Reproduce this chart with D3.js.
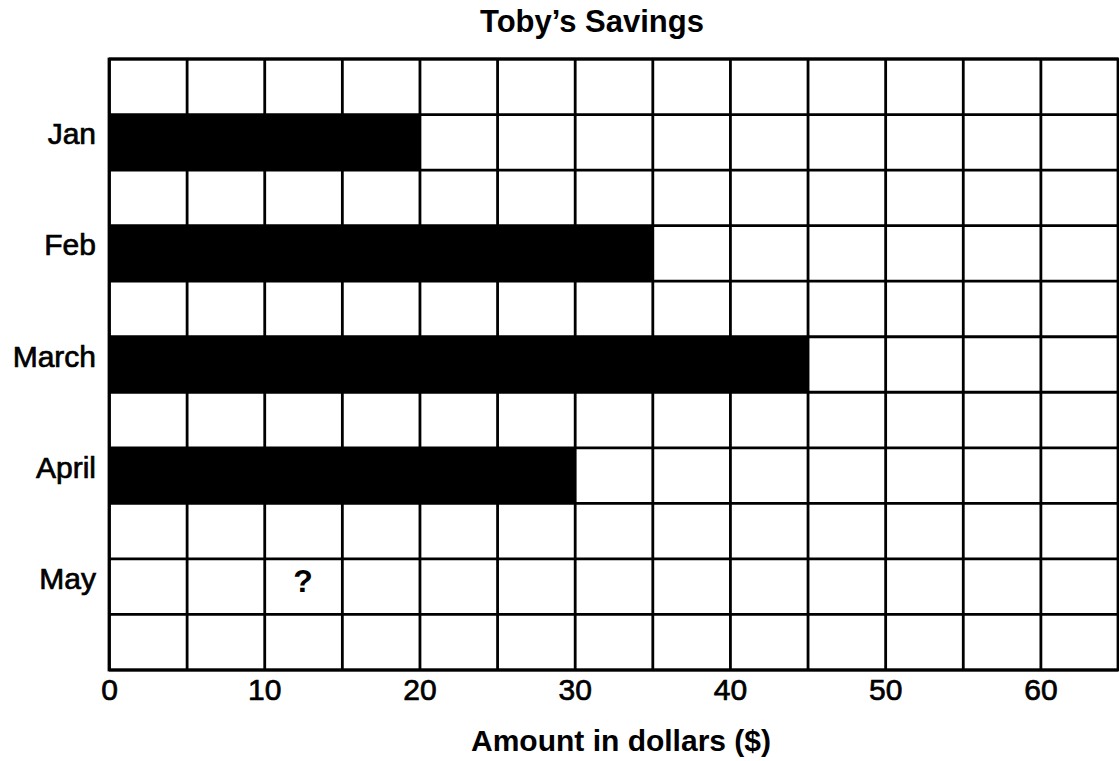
<!DOCTYPE html>
<html>
<head>
<meta charset="utf-8">
<script src="https://cdn.jsdelivr.net/npm/d3@7"></script>
<style>
  html, body { margin: 0; background: #fff; }
  svg { display: block; font-family: "Liberation Sans", Arial, Helvetica, sans-serif; }
  /* the scan makes the type look a little heavier than plain Arial */
  .heavy { stroke: #000; stroke-width: 0.7px; }
</style>
</head>
<body>
<svg id="chart" width="1119" height="761"></svg>
<script>
// data
const months = ['Jan', 'Feb', 'March', 'April', 'May'];
const savings = [20, 35, 45, 30, null];   // May is the unknown one
const unknownMonth = 'May';
const unknownMark = '?';
const unknownAt = 12.5;
const gridStep = 5;
const xMax = 65;
const tickLabels = [0, 10, 20, 30, 40, 50, 60];
const title = 'Toby\u2019s Savings';
const xTitle = 'Amount in dollars ($)';

const W = 1119, H = 761;
const m = { top: 59, right: 1, bottom: 91, left: 109 };
const plotTop = m.top, plotBottom = H - m.bottom;
const stroke = 2.8;

const svg = d3.select('#chart');

const x = d3.scaleLinear().domain([0, xMax]).range([m.left, W - m.right]);
const y = d3.scaleBand().domain(months).range([plotTop, plotBottom])
  .paddingInner(0.5).paddingOuter(0.5);

// horizontal lines: top/bottom of every band plus the gaps between
const rows = d3.scaleLinear().domain([0, months.length * 2 + 1]).range([plotTop, plotBottom]);

svg.append('g').attr('class', 'rows')
  .selectAll('line').data(d3.range(months.length * 2 + 2)).enter().append('line')
  .attr('x1', x(0)).attr('x2', x(xMax))
  .attr('y1', d => rows(d)).attr('y2', d => rows(d))
  .attr('stroke', '#000').attr('stroke-width', stroke);

// bars
const data = months.map((k, i) => ({ month: k, value: savings[i] }));
svg.append('g').attr('class', 'bars')
  .selectAll('rect').data(data.filter(d => d.value != null)).enter().append('rect')
  .attr('x', x(0))
  .attr('y', d => y(d.month))
  .attr('width', d => x(d.value) - x(0))
  .attr('height', y.bandwidth())
  .attr('fill', '#000');

// vertical grid + tick labels
const xAxis = d3.axisBottom(x)
  .tickValues(d3.range(0, xMax + 1, gridStep))
  .tickSizeInner(-(plotBottom - plotTop))
  .tickSizeOuter(0)
  .tickFormat(d => tickLabels.includes(d) ? d : '');

const gx = svg.append('g')
  .attr('transform', `translate(0,${plotBottom})`)
  .call(xAxis);
gx.select('.domain').remove();
gx.selectAll('.tick line').attr('stroke', '#000').attr('stroke-width', stroke);
gx.selectAll('.tick text')
  .attr('class', 'heavy')
  .attr('y', 30).attr('dy', null)
  .attr('fill', '#000')
  .style('font-size', '30px');

// outer frame
svg.append('rect')
  .attr('x', x(0)).attr('y', plotTop)
  .attr('width', x(xMax) - x(0)).attr('height', plotBottom - plotTop)
  .attr('fill', 'none').attr('stroke', '#000').attr('stroke-width', stroke);

// month labels
svg.append('g').attr('class', 'labels')
  .selectAll('text').data(months).enter().append('text')
  .attr('class', 'heavy')
  .attr('x', x(0) - 13)
  .attr('y', d => y(d) + y.bandwidth() / 2 + 2)
  .attr('text-anchor', 'end')
  .style('font-size', '30px')
  .text(d => d);

// the question mark for May
svg.append('text')
  .attr('x', x(unknownAt))
  .attr('y', y(unknownMonth) + y.bandwidth() / 2 + 5)
  .attr('text-anchor', 'middle')
  .style('font-size', '32px').style('font-weight', 'bold')
  .text(unknownMark);

svg.append('text')
  .attr('x', 592).attr('y', 32)
  .attr('text-anchor', 'middle')
  .style('font-size', '31px').style('font-weight', 'bold')
  .text(title);

svg.append('text')
  .attr('x', 621).attr('y', 751)
  .attr('text-anchor', 'middle')
  .style('font-size', '30px').style('font-weight', 'bold')
  .text(xTitle);
</script>
</body>
</html>
